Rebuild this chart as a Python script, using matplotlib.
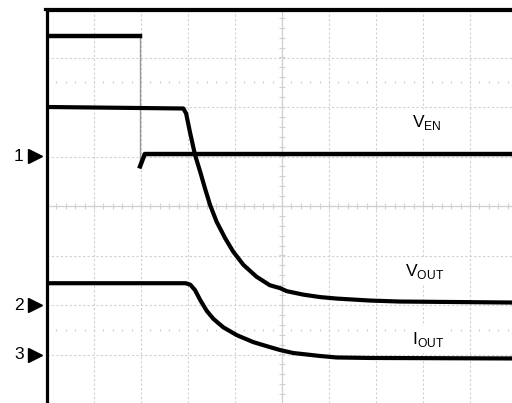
import numpy as np
import matplotlib.pyplot as plt
import matplotlib.transforms as mtransforms
from matplotlib.lines import Line2D

plt.rcParams['font.family'] = ['Liberation Sans', 'DejaVu Sans']

# scope traces, in divisions (x: time div, y: vertical div from screen centre)
ven_t = [0.0, 1.98, 1.98, 2.02, 2.08, 9.9]
ven_v = [3.44, 3.44, 0.80, 0.90, 1.05, 1.05]

vout_t = [0.0, 2.90, 2.96, 3.04, 3.15, 3.26, 3.36, 3.47, 3.61, 3.79, 3.96,
          4.18, 4.46, 4.74, 4.96, 5.10, 5.45, 5.81, 6.16, 6.87, 7.5, 9.9]
vout_v = [2.0, 1.97, 1.87, 1.50, 1.03, 0.69, 0.36, 0.02, -0.32, -0.65, -0.92,
          -1.19, -1.43, -1.60, -1.66, -1.72, -1.79, -1.84, -1.87, -1.91, -1.93, -1.95]

iout_t = [0.0, 2.95, 3.05, 3.15, 3.26, 3.40, 3.54, 3.75, 4.04, 4.39, 4.74, 4.96,
          5.24, 5.81, 6.16, 6.87, 9.9]
iout_v = [-1.56, -1.56, -1.59, -1.70, -1.90, -2.12, -2.28, -2.45, -2.61, -2.75,
          -2.85, -2.91, -2.97, -3.03, -3.06, -3.07, -3.08]

# channel ground markers
markers = ['1', '2', '3']
marker_y = [1.01, -2.0, -3.01]

labels = [r'V$_\mathregular{EN}$', r'V$_\mathregular{OUT}$', r'I$_\mathregular{OUT}$']
label_xy = [(8.08, 1.68), (8.04, -1.32), (8.1, -2.70)]

fig = plt.figure(figsize=(5.12, 4.03), dpi=100)
ax = fig.add_axes([47 / 512, 0.0, 1 - 47 / 512, 1 - 10 / 403])
ax.set_xlim(0, 465 / 47)
ax.set_ylim((206 - 403) / 49.5, (206 - 10) / 49.5)

grid_c = '#d0d0d0'
# graticule
for x in range(1, 10):
    ax.axvline(x, color=grid_c, lw=0.8, ls=(0, (2, 2)), zorder=1)
for y in range(-3, 4):
    ax.axhline(y, color=grid_c, lw=0.8, ls=(0, (2, 2)), zorder=1)
ax.axvline(5, color=grid_c, lw=0.9, zorder=1)
ax.axhline(0, color=grid_c, lw=0.9, zorder=1)
ticks_x = np.arange(0.2, 10, 0.2)
ticks_y = np.arange(-4, 4.01, 0.2)
ax.plot(ticks_x, np.zeros_like(ticks_x), ls='none', marker='|', ms=5,
        mew=0.8, color=grid_c, zorder=1)
ax.plot(np.full_like(ticks_y, 5), ticks_y, ls='none', marker='_', ms=5,
        mew=0.8, color=grid_c, zorder=1)
for y in (2.5, -2.5):
    ax.plot(ticks_x, np.full_like(ticks_x, y), ls='none', marker='|', ms=2,
            mew=0.8, color=grid_c, zorder=1)

# traces
ax.plot(ven_t[:2], ven_v[:2], color='black', lw=3.2, zorder=3)
ax.plot(ven_t[1:3], ven_v[1:3], color='#999999', lw=1, zorder=2)
ax.plot(ven_t[2:], ven_v[2:], color='black', lw=3.2, zorder=3)
ax.plot(vout_t, vout_v, color='black', lw=3, zorder=3)
ax.plot(iout_t, iout_v, color='black', lw=3, zorder=3)

for txt, (x, y) in zip(labels, label_xy):
    ax.text(x, y, txt, fontsize=12.5, ha='center', va='center', zorder=2,
            bbox=dict(facecolor='white', edgecolor='none', pad=3))

# ground markers left of the screen
trans = mtransforms.blended_transform_factory(ax.transAxes, ax.transData)
for m, y in zip(markers, marker_y):
    ax.text(-0.05, y, m, transform=trans, fontsize=12.5, ha='right',
            va='center', clip_on=False)
    ax.plot([-0.026], [y], transform=trans, marker='>', ms=10, color='black',
            ls='none', clip_on=False)

# screen border: left and top edges only
for side in ('right', 'bottom'):
    ax.spines[side].set_visible(False)
for side in ('left', 'top'):
    ax.spines[side].set_linewidth(2.3)
    ax.spines[side].set_zorder(5)
fig.add_artist(Line2D([45 / 512, 1], [1 - 8.5 / 403] * 2, color='black',
                      lw=2.3, transform=fig.transFigure, zorder=6))
ax.set_xticks([])
ax.set_yticks([])

fig.savefig('out.png', dpi=100)
